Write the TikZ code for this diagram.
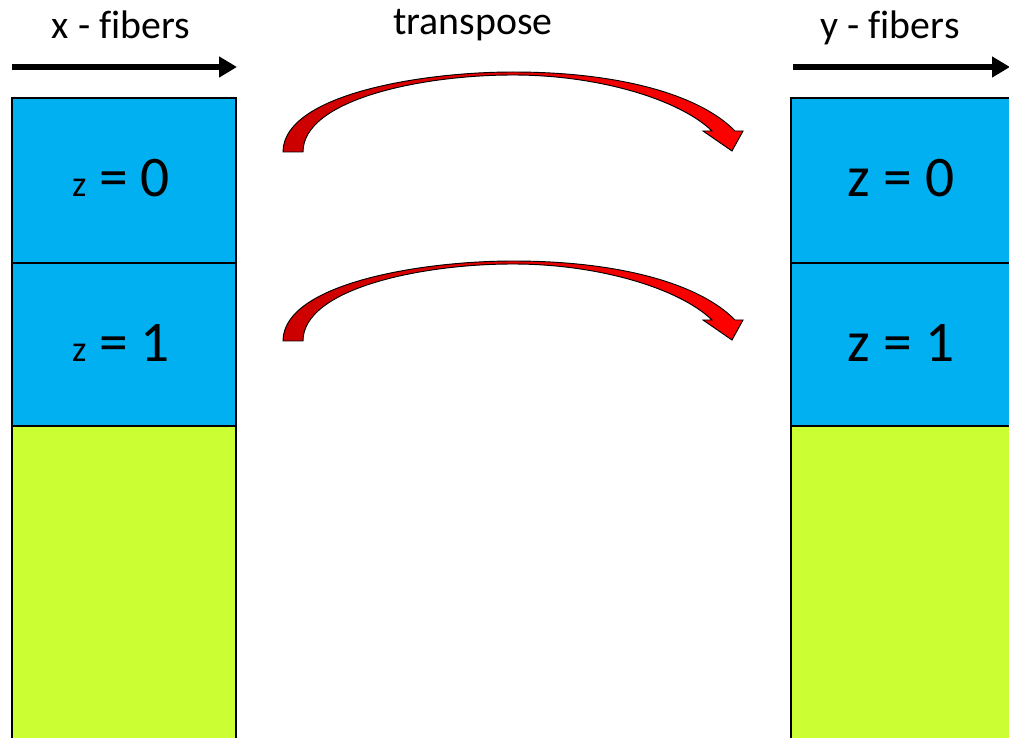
\documentclass[tikz,border=0pt]{standalone}
\usepackage{fontspec}
\setmainfont[Ligatures=NoCommon]{Carlito}
\usetikzlibrary{arrows.meta}
\definecolor{slabblue}{HTML}{00B0F0}
\definecolor{slabgreen}{HTML}{CCFF33}
\begin{document}
\begin{tikzpicture}[
  x=0.03cm, y=-0.03cm,
  slab/.style = {draw=black, line width=1.5pt},
  slabz/.style = {slab, fill=slabblue},
  slabrest/.style = {slab, fill=slabgreen},
  fiberarr/.style = {line width=5pt, -{Triangle[length=0.54cm, width=0.6cm]}},
  headlbl/.style = {anchor=base, font=\fontsize{34}{40}\selectfont},
  zlbl/.style = {anchor=base, font=\fontsize{49}{56}\selectfont},
  bendarr/.style = {draw=black, line width=0.8pt, left color=red!80!black, right color=red}
]
  \useasboundingbox (0,0) rectangle (1009,738);
  \clip (0,0) rectangle (1009,738);
  % left column
  \draw[slabz] (12,98) rectangle (236,263);
  \draw[slabz] (12,263) rectangle (236,426);
  \draw[slabrest] (12,426) rectangle (236,760);
  % right column
  \draw[slabz] (791,98) rectangle (1030,263);
  \draw[slabz] (791,263) rectangle (1030,426);
  \draw[slabrest] (791,426) rectangle (1030,760);
  % fiber directions
  \node[headlbl] (xlbl) at (121,39) {x - fibers};
  \node[headlbl] (ylbl) at (890,39) {y - fibers};
  \node[headlbl] (tlbl) at (473,35) {transpose};
  \coordinate (xs) at (12,67);
  \coordinate (xe) at (237,67);
  \coordinate (ys) at (793,67);
  \coordinate (ye) at (1010,67);
  \draw[fiberarr] (xs) -- (xe);
  \draw[fiberarr] (ys) -- (ye);
  % slab labels
  \node[zlbl] (lz0) at (121,197) {{\fontsize{31}{34}\selectfont z} = 0};
  \node[zlbl] (lz1) at (121,362) {{\fontsize{31}{34}\selectfont z} = 1};
  \node[zlbl] (rz0) at (901,197) {z = 0};
  \node[zlbl] (rz1) at (901,362) {z = 1};
  % transpose arrows
  \foreach \dy in {0,189} {
    \begin{scope}[yshift=-\dy*0.03cm]
      \draw[bendarr] (283,152) .. controls (283,95) and (420,72) .. (513,72)
        .. controls (620,72) and (700,95) .. (735,131)
        -- (743,131) -- (732,151) -- (703,131) -- (712,131)
        .. controls (680,100) and (600,75) .. (513,75)
        .. controls (420,75) and (303,100) .. (303,152) -- cycle;
    \end{scope}
  }
\end{tikzpicture}
\end{document}
